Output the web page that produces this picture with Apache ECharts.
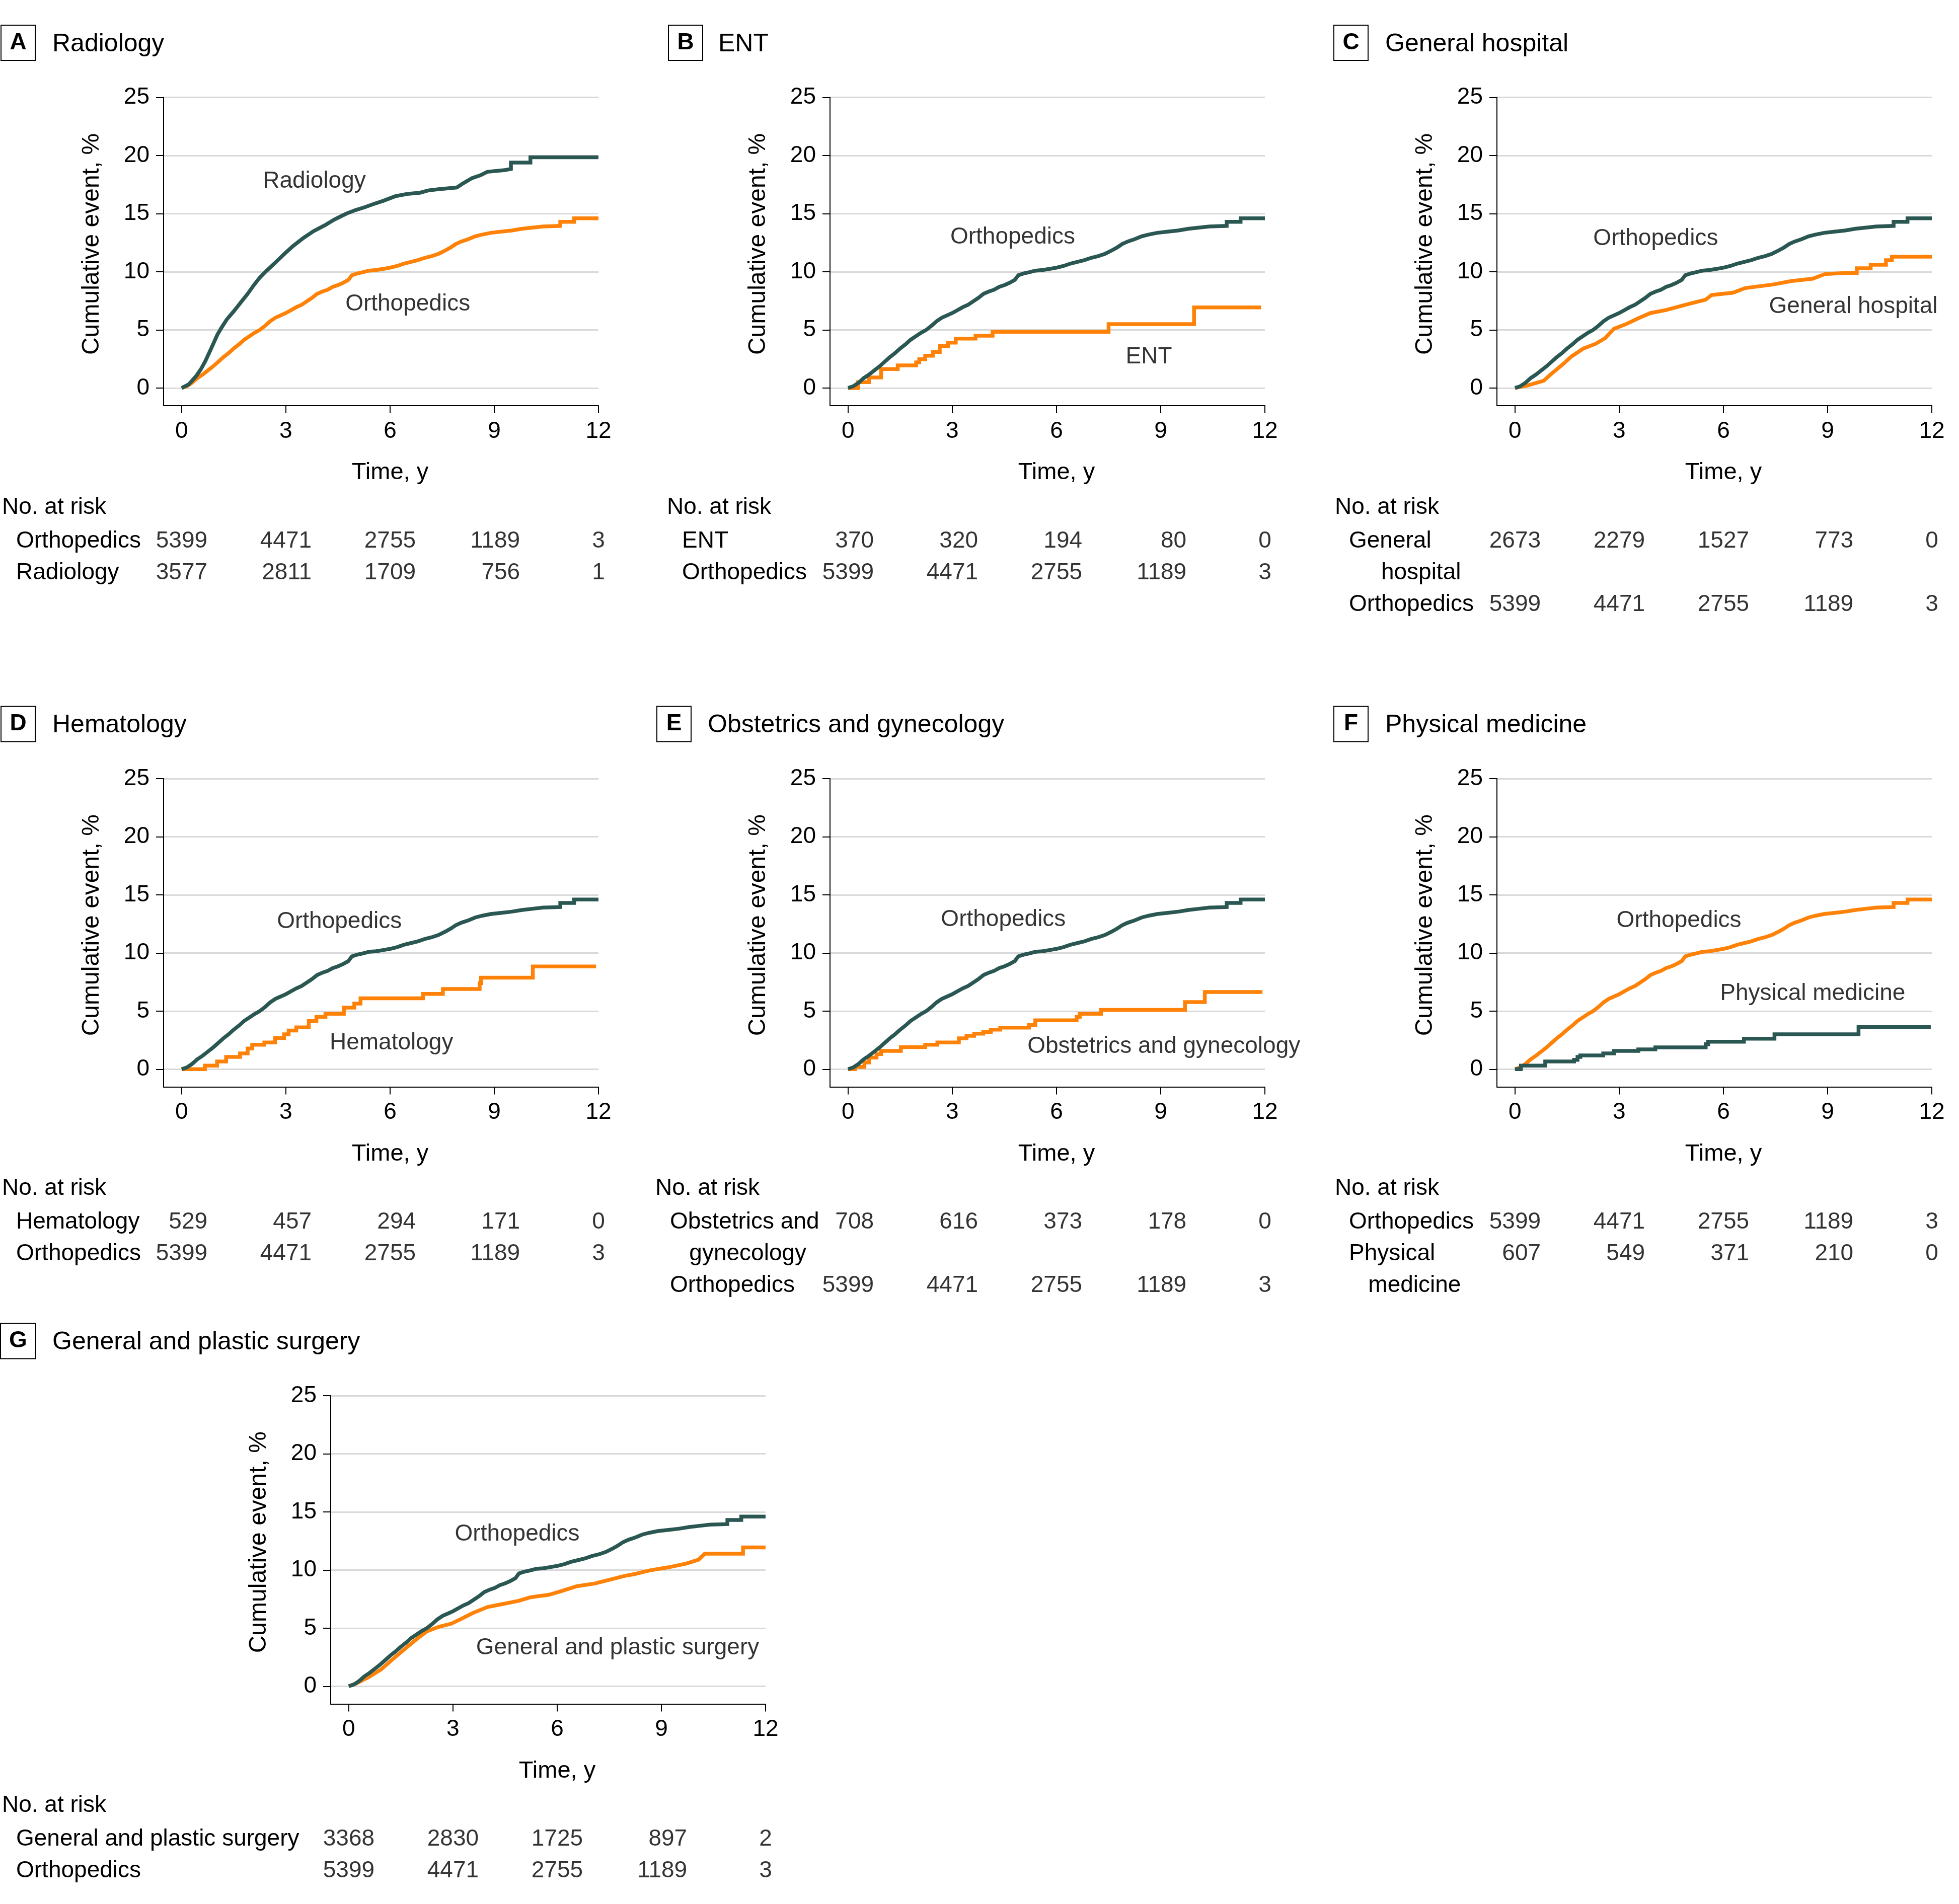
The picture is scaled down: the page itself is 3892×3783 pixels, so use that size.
<!DOCTYPE html>
<html>
<head>
<meta charset="utf-8">
<script src="https://cdn.jsdelivr.net/npm/echarts@6/dist/echarts.min.js"></script>
<style>
html,body{margin:0;padding:0;background:#ffffff;}
#chart{width:3892px;height:3783px;}
</style>
</head>
<body>
<div id="chart"></div>
<script>
// ---------------- DATA ----------------
const timeTicks = [0, 3, 6, 9, 12];
const eventTicks = [0, 5, 10, 15, 20, 25];

// cumulative event, % : [time (y), value]  (dense curves: points,
// repeated times mark the visible vertical jumps)
const orthopedics = [[0,0],[0.15,0.15],[0.3,0.45],[0.45,0.85],[0.6,1.15],[0.75,1.5],[0.9,1.85],[1.05,2.25],[1.2,2.65],[1.35,3.0],[1.5,3.4],[1.65,3.75],[1.8,4.15],[1.95,4.45],[2.1,4.75],[2.25,5.0],[2.4,5.35],[2.55,5.75],[2.7,6.05],[2.85,6.25],[3.0,6.45],[3.15,6.7],[3.3,6.95],[3.45,7.15],[3.6,7.45],[3.75,7.75],[3.9,8.1],[4.05,8.3],[4.2,8.45],[4.35,8.7],[4.5,8.85],[4.65,9.05],[4.8,9.3],[4.9,9.7],[5.05,9.85],[5.2,9.95],[5.4,10.1],[5.6,10.15],[5.8,10.25],[6.0,10.35],[6.2,10.5],[6.4,10.7],[6.6,10.85],[6.8,11.0],[7.0,11.2],[7.2,11.35],[7.4,11.55],[7.6,11.85],[7.75,12.1],[7.9,12.4],[8.05,12.6],[8.25,12.8],[8.45,13.05],[8.65,13.2],[8.9,13.35],[9.2,13.45],[9.5,13.55],[9.8,13.7],[10.1,13.8],[10.4,13.9],[10.9,13.95],[10.9,14.3],[11.3,14.3],[11.3,14.6],[12.0,14.6]];
const radiology = [[0,0],[0.2,0.3],[0.41,1.0],[0.55,1.6],[0.68,2.3],[0.85,3.4],[1.03,4.6],[1.15,5.2],[1.3,5.9],[1.5,6.6],[1.74,7.5],[1.9,8.1],[2.09,8.9],[2.25,9.5],[2.45,10.1],[2.7,10.8],[2.98,11.6],[3.2,12.2],[3.5,12.9],[3.8,13.5],[4.12,14.0],[4.4,14.5],[4.74,15.0],[5.0,15.3],[5.27,15.55],[5.5,15.8],[5.8,16.1],[6.15,16.5],[6.5,16.7],[6.86,16.8],[7.1,17.0],[7.39,17.1],[7.92,17.25],[8.1,17.6],[8.36,18.06],[8.6,18.3],[8.8,18.6],[9.3,18.75],[9.48,18.85],[9.48,19.4],[10.04,19.4],[10.04,19.85],[12.0,19.85]];
const generalHospital = [[0,0],[0.39,0.24],[0.83,0.63],[1.0,1.1],[1.18,1.55],[1.4,2.1],[1.62,2.7],[1.97,3.4],[2.32,3.8],[2.6,4.3],[2.85,5.1],[3.2,5.5],[3.55,6.0],[3.9,6.45],[4.34,6.7],[4.96,7.2],[5.49,7.6],[5.66,8.0],[6.28,8.2],[6.63,8.6],[7.42,8.9],[7.95,9.2],[8.57,9.4],[8.92,9.8],[9.53,9.9],[9.84,9.9],[9.84,10.3],[10.24,10.3],[10.24,10.6],[10.68,10.6],[10.68,11.0],[10.85,11.0],[10.85,11.3],[12.0,11.3]];
const generalPlasticSurgery = [[0,0],[0.23,0.26],[0.58,0.79],[0.93,1.44],[1.28,2.36],[1.64,3.28],[1.99,4.14],[2.25,4.72],[2.6,5.12],[2.95,5.38],[3.22,5.77],[3.57,6.3],[4.0,6.82],[4.36,7.03],[4.89,7.35],[5.24,7.66],[5.77,7.87],[6.12,8.18],[6.56,8.6],[7.09,8.84],[7.53,9.18],[7.96,9.5],[8.23,9.65],[8.67,9.97],[9.2,10.23],[9.72,10.55],[10.07,10.89],[10.25,11.4],[11.35,11.4],[11.35,11.94],[12.0,11.94]];
// sparse curves: [time of jump, new value]
const ent = [[0,0],[0.29,0.5],[0.6,0.9],[0.95,1.63],[1.43,1.94],[1.96,2.2],[2.05,2.47],[2.22,2.78],[2.44,3.1],[2.64,3.6],[2.88,3.9],[3.1,4.25],[3.67,4.5],[4.16,4.83],[7.5,5.5],[9.96,6.93],[11.89,6.93]];
const hematology = [[0,0],[0.67,0.31],[1.02,0.66],[1.28,1.05],[1.68,1.36],[1.9,1.78],[2.03,2.1],[2.38,2.3],[2.69,2.68],[2.95,3.0],[3.08,3.33],[3.3,3.6],[3.66,4.15],[3.88,4.5],[4.14,4.77],[4.67,5.3],[4.97,5.64],[5.15,6.1],[6.95,6.48],[7.52,6.9],[8.58,7.4],[8.62,7.87],[10.11,8.84],[11.93,8.84]];
const obstetricsGynecology = [[0,0],[0.2,0.2],[0.47,0.58],[0.6,1.0],[0.82,1.3],[0.95,1.57],[1.52,1.9],[2.22,2.1],[2.57,2.3],[3.19,2.66],[3.41,2.87],[3.63,3.05],[3.89,3.2],[4.11,3.4],[4.38,3.57],[5.21,3.8],[5.39,4.2],[6.58,4.5],[6.67,4.77],[7.28,5.1],[9.7,5.77],[10.27,6.64],[11.93,6.64]];
const physicalMedicine = [[0,0],[0.17,0.3],[0.87,0.66],[1.7,0.8],[1.8,1.05],[1.88,1.18],[2.54,1.36],[2.85,1.57],[3.55,1.7],[4.04,1.88],[5.49,2.15],[5.56,2.36],[6.59,2.62],[7.47,3.0],[9.89,3.62],[11.97,3.62]];

// No. at risk at timeTicks
const riskOrthopedics = [5399, 4471, 2755, 1189, 3];
const riskRadiology = [3577, 2811, 1709, 756, 1];
const riskEnt = [370, 320, 194, 80, 0];
const riskGeneralHospital = [2673, 2279, 1527, 773, 0];
const riskHematology = [529, 457, 294, 171, 0];
const riskObstetricsGynecology = [708, 616, 373, 178, 0];
const riskPhysicalMedicine = [607, 549, 371, 210, 0];
const riskGeneralPlasticSurgery = [3368, 2830, 1725, 897, 2];

const steppedCurves = [ent, hematology, obstetricsGynecology, physicalMedicine];

const panels = [
  { key:'A', title:'Radiology', orange:orthopedics, dark:radiology,
    notes:[['Radiology',3.82,17.8],['Orthopedics',6.51,7.2]],
    rowLabels:['Orthopedics','Radiology'], riskRows:[[0,riskOrthopedics],[1,riskRadiology]] },
  { key:'B', title:'ENT', orange:ent, dark:orthopedics,
    notes:[['Orthopedics',4.74,12.97],['ENT',8.66,2.68]],
    rowLabels:['ENT','Orthopedics'], riskRows:[[0,riskEnt],[1,riskOrthopedics]] },
  { key:'C', title:'General hospital', orange:generalHospital, dark:orthopedics,
    notes:[['Orthopedics',4.05,12.84],['General hospital',9.74,7.0]],
    rowLabels:['General','     hospital','Orthopedics'], riskRows:[[0,riskGeneralHospital],[2,riskOrthopedics]] },
  { key:'D', title:'Hematology', orange:hematology, dark:orthopedics,
    notes:[['Orthopedics',4.54,12.7],['Hematology',6.04,2.23]],
    rowLabels:['Hematology','Orthopedics'], riskRows:[[0,riskHematology],[1,riskOrthopedics]] },
  { key:'E', title:'Obstetrics and gynecology', orange:obstetricsGynecology, dark:orthopedics,
    notes:[['Orthopedics',4.47,12.85],['Obstetrics and gynecology',9.09,1.94]],
    rowLabels:['Obstetrics and','   gynecology','Orthopedics'], riskRows:[[0,riskObstetricsGynecology],[2,riskOrthopedics]] },
  { key:'F', title:'Physical medicine', orange:orthopedics, dark:physicalMedicine,
    notes:[['Orthopedics',4.72,12.76],['Physical medicine',8.57,6.48]],
    rowLabels:['Orthopedics','Physical','   medicine'], riskRows:[[0,riskOrthopedics],[1,riskPhysicalMedicine]] },
  { key:'G', title:'General and plastic surgery', orange:generalPlasticSurgery, dark:orthopedics,
    notes:[['Orthopedics',4.85,13.06],['General and plastic surgery',7.74,3.28]],
    rowLabels:['General and plastic surgery','Orthopedics'], riskRows:[[0,riskGeneralPlasticSurgery],[1,riskOrthopedics]] }
];

// ---------------- LAYOUT ----------------
const FONT = '"Liberation Sans", Arial, Helvetica, sans-serif';
const ORANGE = '#ff8208';
const DARK = '#2b5753';
const X_MIN = -0.52, Y_MIN = -1.52;
const PLOT_W = 864, PLOT_H = 612.4, PLOT_TOP = 193.6;
const ROW_OFF = [0, 1353.4, 2579.4];
const layout = {
  A:{row:0, axisX:325,  boxX:2,    titleX:104,  nrX:4,    labelX:32},
  B:{row:0, axisX:1649, boxX:1328, titleX:1427, nrX:1325, labelX:1355},
  C:{row:0, axisX:2974, boxX:2650, titleX:2752, nrX:2652, labelX:2680},
  D:{row:1, axisX:325,  boxX:2,    titleX:104,  nrX:4,    labelX:32},
  E:{row:1, axisX:1649, boxX:1305, titleX:1406, nrX:1302, labelX:1331},
  F:{row:1, axisX:2974, boxX:2650, titleX:2752, nrX:2652, labelX:2680},
  G:{row:2, axisX:657,  boxX:2,    titleX:104,  nrX:4,    labelX:32}
};
const ROW_H = 63, FIRST_ROW_Y = 1075;

const measureCtx = document.createElement('canvas').getContext('2d');
measureCtx.font = '46px ' + FONT;
function textW(s){ return measureCtx.measureText(s).width; }

const chart = echarts.init(document.getElementById('chart'), null, {renderer:'canvas'});
const option = { animation:false, backgroundColor:'#ffffff', title:[], grid:[], xAxis:[], yAxis:[], series:[] };
const txt = (size, extra) => Object.assign({fontSize:size, color:'#000', fontFamily:FONT, fontWeight:'normal'}, extra || {});

function curveSeries(data, color, gi, z){
  return { type:'line', xAxisIndex:gi, yAxisIndex:gi, data:data,
    step: steppedCurves.includes(data) ? 'end' : false,
    showSymbol:false, symbol:'none', silent:true, z:z,
    lineStyle:{ color:color, width:7.5, join:'miter', cap:'butt' } };
}

panels.forEach(p => {
  const L = layout[p.key];
  const off = ROW_OFF[L.row];

  // titles
  option.title.push({ text:'{b|' + p.key + '}', left:L.boxX, top:50 + off, padding:[12,17],
    borderColor:'#000', borderWidth:2,
    textStyle:{ rich:{ b:{ fontSize:46, fontWeight:'bold', color:'#000', fontFamily:FONT, width:34, align:'center', lineHeight:46 } } } });
  option.title.push({ text:p.title, left:L.titleX, top:63 + off, padding:0, textStyle:txt(50) });
  option.title.push({ text:'No. at risk', left:L.nrX, top:985 + off, padding:0, textStyle:txt(46) });

  // plot grid
  const gi = option.grid.length;
  option.grid.push({ left:L.axisX, top:PLOT_TOP + off, width:PLOT_W, height:PLOT_H });
  option.xAxis.push({ gridIndex:gi, type:'value', min:X_MIN, max:12,
    axisLine:{ show:true, onZero:false, lineStyle:{ color:'#000', width:2 } },
    axisTick:{ show:true, customValues:timeTicks, length:15, lineStyle:{ color:'#000', width:2 } },
    axisLabel:{ customValues:timeTicks, margin:28, ...txt(46) },
    splitLine:{ show:false },
    name:'Time, y', nameLocation:'middle', nameGap:110,
    nameTextStyle:txt(47, { padding:[0,0,0,36] }) });
  option.yAxis.push({ gridIndex:gi, type:'value', min:Y_MIN, max:25,
    axisLine:{ show:true, onZero:false, lineStyle:{ color:'#000', width:2 } },
    axisTick:{ show:true, customValues:eventTicks, length:15, lineStyle:{ color:'#000', width:2 } },
    axisLabel:{ customValues:eventTicks, margin:28, ...txt(46) },
    splitLine:{ show:true, lineStyle:{ color:'#d9d9d9', width:3 } },
    name:'Cumulative event, %', nameLocation:'middle', nameGap:118,
    nameTextStyle:txt(48, { padding:[0,0,0,30] }) });

  option.series.push(curveSeries(p.orange, ORANGE, gi, 3));
  option.series.push(curveSeries(p.dark, DARK, gi, 4));
  option.series.push({ type:'scatter', xAxisIndex:gi, yAxisIndex:gi, silent:true, symbolSize:1,
    itemStyle:{ color:'rgba(0,0,0,0)' }, z:5,
    data:p.notes.map(n => ({ value:[n[1], n[2]], name:n[0] })),
    label:{ show:true, position:'inside', formatter:q => q.name, ...txt(46) } });

  // risk table grid
  const ti = option.grid.length;
  const nRows = p.rowLabels.length;
  option.grid.push({ left:L.axisX, top:FIRST_ROW_Y + off - ROW_H / 2, width:PLOT_W, height:nRows * ROW_H });
  option.xAxis.push({ gridIndex:ti, type:'value', min:X_MIN, max:12, show:false });
  option.yAxis.push({ gridIndex:ti, type:'category', inverse:true, data:p.rowLabels,
    axisLine:{ show:false }, axisTick:{ show:false }, splitLine:{ show:false },
    axisLabel:{ interval:0, align:'left', margin:L.axisX - L.labelX, ...txt(46) } });
  const colMax = timeTicks.map((t, c) => Math.max(...p.riskRows.map(r => String(r[1][c]).length)));
  const riskData = [];
  p.riskRows.forEach(r => {
    r[1].forEach((v, c) => {
      const half = textW('0'.repeat(colMax[c])) / 2;
      riskData.push({ value:[timeTicks[c], r[0]], name:String(v), label:{ offset:[half, 0] } });
    });
  });
  option.series.push({ type:'scatter', xAxisIndex:ti, yAxisIndex:ti, silent:true, symbolSize:1,
    itemStyle:{ color:'rgba(0,0,0,0)' }, data:riskData,
    label:{ show:true, position:'inside', align:'right', formatter:q => q.name, ...txt(46) } });
});

chart.setOption(option);
</script>
</body>
</html>
